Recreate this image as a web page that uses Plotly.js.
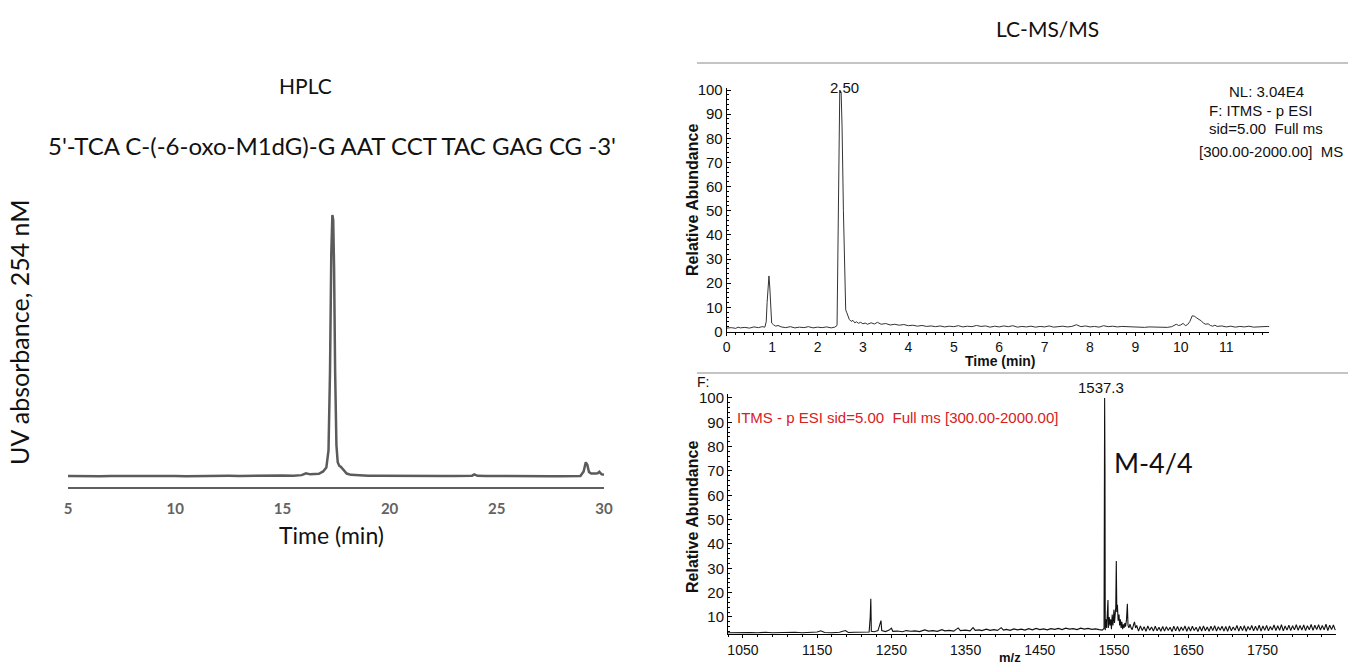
<!DOCTYPE html>
<html>
<head>
<meta charset="utf-8">
<script src="https://cdn.plot.ly/plotly-3.0.1.min.js"></script>
<style>
html,body{margin:0;padding:0;background:#fff;}
#chart{width:1361px;height:665px;}
</style>
</head>
<body>
<div id="chart"></div>
<script>
// ---------- HPLC trace (time in min, UV absorbance, relative units) ----------
const hplcTime = [5.0,5.5,6.0,6.5,7.0,7.5,8.0,8.5,9.0,9.5,10.0,10.5,11.0,11.5,12.0,12.5,13.0,13.5,14.0,14.5,15.0,15.5,15.9,16.1,16.3,16.5,16.7,16.9,17.05,17.15,17.22,17.28,17.33,17.37,17.41,17.46,17.52,17.58,17.65,17.72,17.8,17.9,18.0,18.2,18.5,19.0,19.5,20.0,20.5,21.0,21.5,22.0,22.5,23.0,23.5,23.85,23.95,24.1,24.5,25.0,25.5,26.0,26.5,27.0,27.5,28.0,28.5,28.9,29.05,29.15,29.22,29.3,29.4,29.5,29.6,29.7,29.78,29.88,30.0];
const hplcAbs  = [0.3,0.2,0.3,0.2,0.25,0.3,0.2,0.25,0.3,0.25,0.3,0.2,0.3,0.25,0.3,0.35,0.3,0.4,0.5,0.45,0.5,0.4,0.6,1.3,0.9,1.0,1.1,2.0,3.5,10,40,85,100,98,80,40,12,5.5,4.2,3.8,3.0,2.0,1.2,0.7,0.5,0.4,0.35,0.3,0.35,0.3,0.3,0.25,0.3,0.3,0.3,0.4,0.9,0.35,0.25,0.2,0.2,0.15,0.2,0.15,0.2,0.2,0.2,0.3,2.0,5.5,4.6,1.8,1.2,1.1,1.2,1.3,1.9,1.0,0.7];
const hplcTicks = [5,10,15,20,25,30];

// ---------- LC-MS/MS chromatogram (time in min, relative abundance %) ----------
const lcTime = [0.00,0.10,0.20,0.25,0.30,0.40,0.50,0.60,0.70,0.78,0.84,0.87,0.89,0.91,0.93,0.95,0.97,0.99,1.03,1.08,1.13,1.20,1.30,1.40,1.50,1.60,1.70,1.80,1.90,2.00,2.10,2.20,2.30,2.38,2.43,2.45,2.47,2.49,2.52,2.54,2.57,2.60,2.62,2.64,2.67,2.70,2.74,2.78,2.82,2.86,2.90,2.95,3.00,3.05,3.10,3.18,3.25,3.32,3.40,3.50,3.60,3.70,3.80,3.90,4.00,4.10,4.20,4.30,4.40,4.50,4.60,4.70,4.80,4.90,5.00,5.10,5.20,5.30,5.40,5.50,5.60,5.70,5.80,5.90,6.00,6.10,6.20,6.30,6.40,6.50,6.60,6.70,6.80,6.90,7.00,7.10,7.20,7.30,7.40,7.50,7.60,7.70,7.80,7.90,8.00,8.10,8.20,8.30,8.40,8.50,8.60,8.70,8.80,8.90,9.00,9.10,9.20,9.30,9.40,9.50,9.60,9.70,9.80,9.90,9.95,10.00,10.05,10.10,10.15,10.20,10.25,10.30,10.35,10.40,10.45,10.50,10.55,10.60,10.65,10.70,10.75,10.80,10.90,11.00,11.10,11.20,11.30,11.40,11.50,11.60,11.70,11.80,11.90,11.95];
const lcAbund = [1.4,1.6,1.3,1.8,1.5,1.7,1.4,1.9,1.6,2.0,1.8,4.0,12,20,23,18,8,3.5,2.8,2.2,2.5,1.9,1.6,2.0,1.5,1.8,1.6,2.0,1.5,1.8,1.6,1.9,1.5,1.8,2.5,30,75,100,99,85,50,18,9.0,8.0,6.5,5.0,4.2,4.6,3.6,4.0,3.4,3.8,3.2,3.5,3.0,3.6,3.1,3.8,3.0,3.3,2.7,3.0,2.6,2.9,2.4,2.6,2.2,2.5,2.1,2.3,2.0,2.3,1.9,2.2,2.0,2.4,1.9,2.2,2.0,2.5,2.1,2.3,1.8,2.2,1.9,2.3,2.0,2.4,1.8,2.1,1.9,2.2,1.8,2.1,1.9,2.3,1.8,2.0,2.2,1.9,2.1,2.8,2.0,2.3,1.9,2.1,1.8,2.4,2.0,2.2,1.9,2.1,2.0,2.2,1.9,2.0,1.7,1.9,1.8,2.0,1.6,1.7,2.0,3.0,2.5,2.7,3.4,2.4,2.9,4.2,6.5,6.3,5.6,5.0,4.4,3.4,3.0,3.2,2.5,2.2,2.6,2.1,2.3,1.9,2.2,1.8,2.1,1.9,2.2,1.8,2.0,1.9,2.1,2.0];
const lcTicks = [0,1,2,3,4,5,6,7,8,9,10,11];

// ---------- Full MS spectrum (m/z, relative abundance %) ----------
const msMz = [1030,1040,1050,1060,1070,1080,1090,1100,1110,1120,1130,1140,1150,1155,1160,1170,1180,1188,1192,1200,1208,1215,1220,1221.5,1222.3,1223,1227,1232,1235,1236,1237,1242,1247,1250,1252,1258,1265,1270,1276,1282,1288,1295,1300,1306,1312,1318,1322,1328,1334,1340,1343,1350,1356,1360,1363,1368,1372,1378,1383,1388,1393,1398,1401,1405,1410,1415,1420,1425,1430,1435,1440,1445,1450,1455,1460,1465,1470,1475,1480,1485,1490,1495,1500,1505,1510,1515,1520,1525,1530,1534,1536.5,1537.0,1537.3,1537.5,1537.8,1538.1,1539,1540,1541.3,1541.8,1542.3,1543.5,1544.5,1545.5,1546.5,1547.5,1548.5,1549.9,1550.6,1551.5,1552.3,1553,1553.7,1554.5,1555.5,1556.7,1557.5,1558.5,1559.5,1560.5,1561.5,1562.5,1563.5,1564.5,1565.5,1566.8,1567.9,1568.8,1570,1571.5,1573,1574.5,1576,1577.5,1579,1580.5,1583,1585.5,1588,1590.5,1593,1595.5,1598,1600.5,1603,1605.5,1608,1610.5,1613,1615.5,1618,1620.5,1623,1625.5,1628,1630.5,1633,1635.5,1638,1640.5,1643,1645.5,1648,1650.5,1653,1655.5,1658,1660.5,1663,1665.5,1668,1670.5,1673,1675.5,1678,1680.5,1683,1685.5,1688,1690.5,1693,1695.5,1698,1700.5,1703,1705.5,1708,1710.5,1713,1715.5,1718,1720.5,1723,1725.5,1728,1730.5,1733,1735.5,1738,1740.5,1743,1745.5,1748,1750.5,1753,1755.5,1758,1760.5,1763,1765.5,1768,1770.5,1773,1775.5,1778,1780.5,1783,1785.5,1788,1790.5,1793,1795.5,1798,1800.5,1803,1805.5,1808,1810.5,1813,1815.5,1818,1820.5,1823,1825.5,1828,1830.5,1833,1835.5,1838,1840.5,1843,1845.5,1848];
const msInt = [3.5,3.6,3.4,3.6,3.5,3.7,3.5,3.6,3.4,3.7,3.5,3.6,3.8,4.3,3.6,3.5,3.7,4.4,3.6,3.7,3.8,3.7,3.8,10,17.5,4.1,3.9,4.4,7,8.5,4.4,4.0,4.6,5.4,4.1,4.2,3.9,4.4,4.1,4.3,4.0,4.7,4.2,4.4,4.1,4.8,4.3,4.5,4.2,5.5,4.4,4.6,4.3,5.6,4.5,4.7,4.4,5.0,4.5,4.8,4.5,5.6,4.6,4.9,4.5,5.1,4.7,5.0,4.6,5.2,4.7,5.3,4.8,5.1,4.7,5.2,4.9,5.3,4.8,5.4,5.0,5.2,4.8,5.4,5.0,5.3,4.9,5.1,4.8,4.6,5.3,60,100,30,70,4.6,9,5.5,12,17,5.5,10,6.5,9,5,11,6.5,13,7.5,10,14,33,12,15,8.5,11,6.5,9,5.5,8,5,7,5.5,7.5,6,9,15.4,6.5,5.5,7,5.5,4.8,6.5,8,5.5,6.5,4.2,6.3,4.4,6.0,4.1,6.3,4.5,5.9,4.2,6.2,4.3,5.8,4.1,6.1,4.2,6.0,4.4,5.8,4.0,6.2,4.3,6.1,4.1,5.9,4.4,6.3,4.1,6.0,4.2,6.2,4.4,5.8,4.0,6.1,4.2,6.3,4.3,5.9,4.1,6.2,4.4,6.4,4.2,6.0,4.5,6.2,4.2,6.1,4.1,6.3,4.3,5.9,4.5,6.5,4.2,6.2,4.4,6.4,4.1,6.1,4.6,6.5,4.3,6.2,4.4,6.6,4.2,6.3,4.5,6.5,4.3,6.1,4.6,6.7,4.4,6.4,4.5,6.8,4.3,6.3,4.6,6.6,4.4,6.4,4.7,6.8,4.5,6.5,4.6,6.7,4.4,6.4,4.7,6.9,4.5,6.6,4.8,6.8,4.6,6.5,4.7,7.0,4.4,6.6,4.8,6.7,4.6];
const msTicks = [1050,1150,1250,1350,1450,1550,1650,1750];

// ---------- page geometry helpers (pixel -> paper) ----------
const W = 1361, H = 665;
const fx = p => p / W;
const fy = p => 1 - p / H;

const calibri = 'Lato, "Open Sans", sans-serif';
const arialN = '"Liberation Sans Narrow", "Liberation Sans", Arial, sans-serif';
const arial = '"Liberation Sans", Arial, sans-serif';

const traces = [
  {x: hplcTime, y: hplcAbs, xaxis: 'x', yaxis: 'y', type: 'scatter', mode: 'lines',
   line: {color: '#5b5b5b', width: 2.5}, hoverinfo: 'skip'},
  {x: lcTime, y: lcAbund, xaxis: 'x2', yaxis: 'y2', type: 'scatter', mode: 'lines',
   line: {color: '#333333', width: 1}, hoverinfo: 'skip'},
  {x: msMz, y: msInt, xaxis: 'x3', yaxis: 'y3', type: 'scatter', mode: 'lines',
   line: {color: '#111111', width: 1.1}, hoverinfo: 'skip'}
];

const rightTick = {family: arialN, size: 15, color: '#111'};
const rightTickX = {family: arialN, size: 14, color: '#111'};

const layout = {
  width: W, height: H,
  margin: {l: 0, r: 0, t: 0, b: 0},
  paper_bgcolor: '#fff', plot_bgcolor: 'rgba(0,0,0,0)',
  showlegend: false,
  xaxis: {domain: [fx(68), fx(604)], range: [5, 30], anchor: 'y',
    showline: true, linecolor: '#5f5f5f', linewidth: 2, mirror: false,
    showgrid: false, zeroline: false, ticks: '', tickmode: 'array', tickvals: hplcTicks,
    ticklabelstandoff: 7,
    tickfont: {family: calibri, size: 15, color: '#626262', weight: 'bold'}},
  yaxis: {domain: [fy(487.3), fy(204.5)], range: [-4.05, 104], anchor: 'x', visible: false},
  xaxis2: {domain: [fx(726.7), fx(1269.4)], range: [0, 11.95], anchor: 'y2',
    showline: true, linecolor: '#000', linewidth: 1, showgrid: false, zeroline: false,
    tickmode: 'array', tickvals: lcTicks, ticks: 'outside', ticklen: 3, tickcolor: '#000',
    minor: {tickmode: 'linear', tick0: 0, dtick: 0.2, ticks: 'outside', ticklen: 2, tickcolor: '#000', showgrid: false},
    tickfont: rightTickX, ticklabelstandoff: 0},
  yaxis2: {domain: [fy(331.5), fy(87.6)], range: [0, 101], anchor: 'x2',
    showline: true, linecolor: '#000', linewidth: 1, showgrid: false, zeroline: false,
    tickmode: 'linear', tick0: 0, dtick: 10, ticks: 'inside', ticklen: 4, tickcolor: '#000',
    minor: {dtick: 2, ticks: 'inside', ticklen: 2, tickcolor: '#000', showgrid: false},
    tickfont: rightTick, ticklabelstandoff: 0},
  xaxis3: {domain: [fx(728), fx(1336)], range: [1029.9, 1849], anchor: 'y3',
    showline: true, linecolor: '#000', linewidth: 1, showgrid: false, zeroline: false,
    tickmode: 'array', tickvals: msTicks, ticks: 'outside', ticklen: 3, tickcolor: '#000',
    minor: {tickmode: 'linear', tick0: 1050, dtick: 20, ticks: 'outside', ticklen: 2, tickcolor: '#000', showgrid: false},
    tickfont: rightTickX, ticklabelstandoff: 0},
  yaxis3: {domain: [fy(634), fy(394.3)], range: [3.0, 101.5], anchor: 'x3',
    showline: true, linecolor: '#000', linewidth: 1, showgrid: false, zeroline: false,
    tickmode: 'linear', tick0: 0, dtick: 10, ticks: 'inside', ticklen: 4, tickcolor: '#000',
    minor: {dtick: 2, ticks: 'inside', ticklen: 2, tickcolor: '#000', showgrid: false},
    tickfont: rightTick, ticklabelstandoff: 0},
  shapes: [
    {type: 'line', xref: 'paper', yref: 'paper', x0: fx(697), x1: fx(1348), y0: fy(63), y1: fy(63),
     line: {color: '#8a8a8a', width: 1}},
    {type: 'line', xref: 'paper', yref: 'paper', x0: fx(697), x1: fx(1348), y0: fy(373), y1: fy(373),
     line: {color: '#8a8a8a', width: 1}}
  ],
  annotations: [
    {text: 'HPLC', x: fx(305), y: fy(85), font: {family: calibri, size: 21, color: '#111'}},
    {text: "5'-TCA C-(-6-oxo-M1dG)-G AAT CCT TAC GAG CG -3'", x: fx(332), y: fy(145),
     font: {family: calibri, size: 24, color: '#111'}},
    {text: 'UV absorbance, 254 nM', x: fx(19), y: fy(332), textangle: -90,
     font: {family: calibri, size: 25, color: '#111'}},
    {text: 'Time (min)', x: fx(331), y: fy(535), font: {family: calibri, size: 23, color: '#111'}},
    {text: 'LC-MS/MS', x: fx(1047), y: fy(28), font: {family: calibri, size: 21, color: '#111'}},
    {text: 'Relative Abundance', x: fx(692), y: fy(200), textangle: -90,
     font: {family: arial, size: 16, color: '#111', weight: 'bold'}},
    {text: 'Time (min)', x: fx(1000), y: fy(361), font: {family: arial, size: 14, color: '#111', weight: 'bold'}},
    {text: '2.50', x: fx(844), y: fy(87), font: {family: arialN, size: 15, color: '#111'}},
    {text: 'NL: 3.04E4', x: fx(1266), y: fy(92), font: {family: arialN, size: 15, color: '#111'}},
    {text: 'F: ITMS - p ESI', x: fx(1260), y: fy(110), font: {family: arialN, size: 15, color: '#111'}},
    {text: 'sid=5.00  Full ms', x: fx(1266), y: fy(128), font: {family: arialN, size: 15, color: '#111'}},
    {text: '[300.00-2000.00]  MS', x: fx(1271), y: fy(152), font: {family: arialN, size: 15, color: '#111'}},
    {text: 'F:', x: fx(703), y: fy(382), font: {family: arialN, size: 14, color: '#111'}},
    {text: '1537.3', x: fx(1101), y: fy(387), font: {family: arialN, size: 15, color: '#111'}},
    {text: 'ITMS - p ESI sid=5.00  Full ms [300.00-2000.00]', x: fx(897), y: fy(417),
     font: {family: arialN, size: 15, color: '#d8201c'}},
    {text: 'M-4/4', x: fx(1153), y: fy(462), font: {family: calibri, size: 27, color: '#111'}},
    {text: 'Relative Abundance', x: fx(692), y: fy(517), textangle: -90,
     font: {family: arial, size: 16, color: '#111', weight: 'bold'}},
    {text: 'm/z', x: fx(1010), y: fy(657), font: {family: arial, size: 13, color: '#111', weight: 'bold'}}
  ].map(a => Object.assign({xref: 'paper', yref: 'paper', showarrow: false,
                             xanchor: 'center', yanchor: 'middle'}, a))
};

Plotly.newPlot('chart', traces, layout, {displayModeBar: false, staticPlot: true});
</script>
</body>
</html>
